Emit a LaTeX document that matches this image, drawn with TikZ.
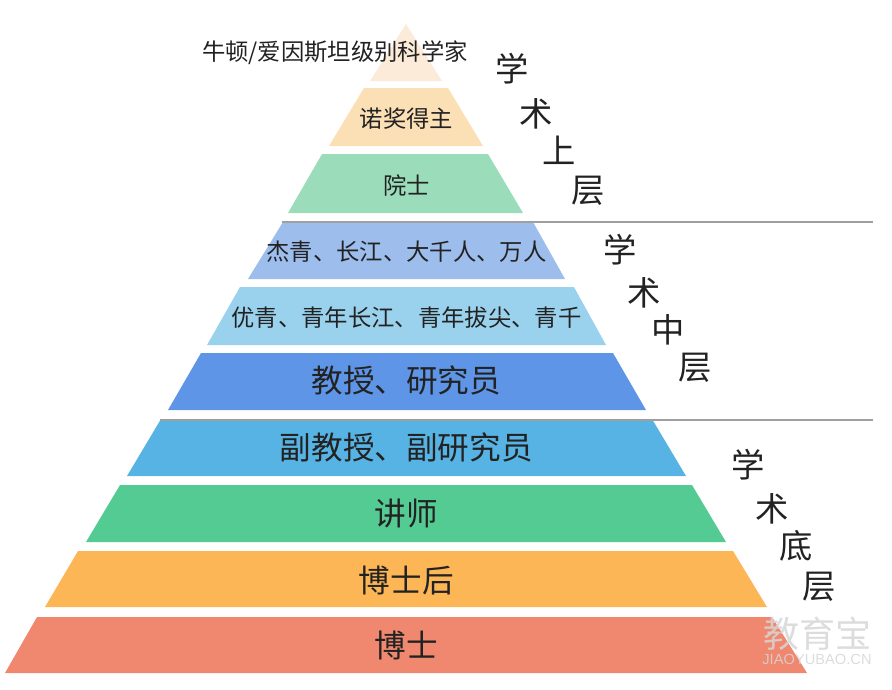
\documentclass[tikz,border=0pt]{standalone}
\usepackage{fontspec}
\setmainfont{Noto Sans CJK SC}
\newfontfamily\wmfont{Liberation Sans}
\usetikzlibrary{positioning}

\definecolor{cnewton}{HTML}{FBEBD8}
\definecolor{cnobel}{HTML}{FBDFB5}
\definecolor{cacad}{HTML}{9BDDBB}
\definecolor{cjq}{HTML}{9DBDEC}
\definecolor{cyq}{HTML}{9AD2EE}
\definecolor{cprof}{HTML}{5F95E6}
\definecolor{cassoc}{HTML}{57B3E3}
\definecolor{clect}{HTML}{55CB94}
\definecolor{cpost}{HTML}{FDB655}
\definecolor{cphd}{HTML}{F0876F}
\definecolor{ctext}{HTML}{222222}

\begin{document}
\begin{tikzpicture}[
	x=0.75pt,y=-0.75pt,
	node distance=25.5pt and 0pt,
	mysmall/.style={text=ctext, inner sep=0pt, minimum height=24pt, font=\fontsize{17.5}{20}\selectfont},
	mybig/.style={text=ctext, inner sep=0pt, minimum height=24pt, font=\fontsize{23.7}{26}\selectfont},
	myside/.style={text=ctext, inner sep=0pt, font=\fontsize{25}{28}\selectfont},
	mysep/.style={draw=gray!75, line width=1.6pt},
	mymark/.style={text=gray!32, opacity=.85, inner sep=0pt}
	]
	\useasboundingbox (0,0) rectangle (892,689);

	\fill[cnewton] (406,24) -- (442,81) -- (370,81) -- cycle;
	\fill[cnobel] (364,88) -- (448,88) -- (483,146) -- (329,146) -- cycle;
	\fill[cacad] (322,154) -- (488,154) -- (523,213) -- (288,213) -- cycle;
	\fill[cjq] (283,222) -- (533,222) -- (565,279) -- (248,279) -- cycle;
	\fill[cyq] (240,287) -- (574,287) -- (606,345) -- (207,345) -- cycle;
	\fill[cprof] (201,353) -- (613,353) -- (646,410) -- (168,410) -- cycle;
	\fill[cassoc] (161,419) -- (652,419) -- (686,476) -- (127,476) -- cycle;
	\fill[clect] (120,485) -- (692,485) -- (726,542) -- (86,542) -- cycle;
	\fill[cpost] (78,551) -- (733,551) -- (767,607) -- (45,607) -- cycle;
	\fill[cphd] (37,617) -- (772,617) -- (807,673) -- (5,673) -- cycle;

	\draw[mysep] (282,222) -- (873,222);
	\draw[mysep] (160,420) -- (873,420);

	\node[mysmall] (newton) at (335,53) {牛顿/爱因斯坦级别科学家};
	\node[mysmall,below =of newton, xshift=53.5pt, yshift=.6pt] (nobel) {诺奖得主};
	\node[mysmall,below =of nobel] (acad) {院士};
	\node[mysmall,below =of acad] (jq) {杰青、长江、大千人、万人};
	\node[mysmall,below =of jq, yshift=.5pt] (yq) {优青、青年长江、青年拔尖、青千};
	\node[mybig,below =of yq, yshift=2.8pt] (prof) {教授、研究员};
	\node[mybig,below =of prof] (assoc) {副教授、副研究员};
	\node[mybig,below =of assoc] (lect) {讲师};
	\node[mybig,below =of lect] (post) {博士后};
	\node[mybig,below =of post, yshift=.8pt] (phd) {博士};

	\node[myside] (ua) at (512,69) {学};
	\node[myside] (ub) at (536,114) {术};
	\node[myside] (uc) at (559,150) {上};
	\node[myside] (ud) at (588,191) {层};

	\node[myside] (ma) at (620,250) {学};
	\node[myside] (mb) at (644,293) {术};
	\node[myside] (mc) at (668,330) {中};
	\node[myside] (md) at (695,368) {层};

	\node[myside] (la) at (748,465) {学};
	\node[myside] (lb) at (772,509) {术};
	\node[myside] (lc) at (796,546) {底};
	\node[myside] (ld) at (819,587) {层};

	\node[mymark, font=\fontsize{27}{30}\selectfont] (wm) at (817,634) {教育宝};
	\node[mymark, font=\fontsize{11}{13}\wmfont, below =2pt of wm] (wmurl) {JIAOYUBAO.CN};
\end{tikzpicture}
\end{document}
